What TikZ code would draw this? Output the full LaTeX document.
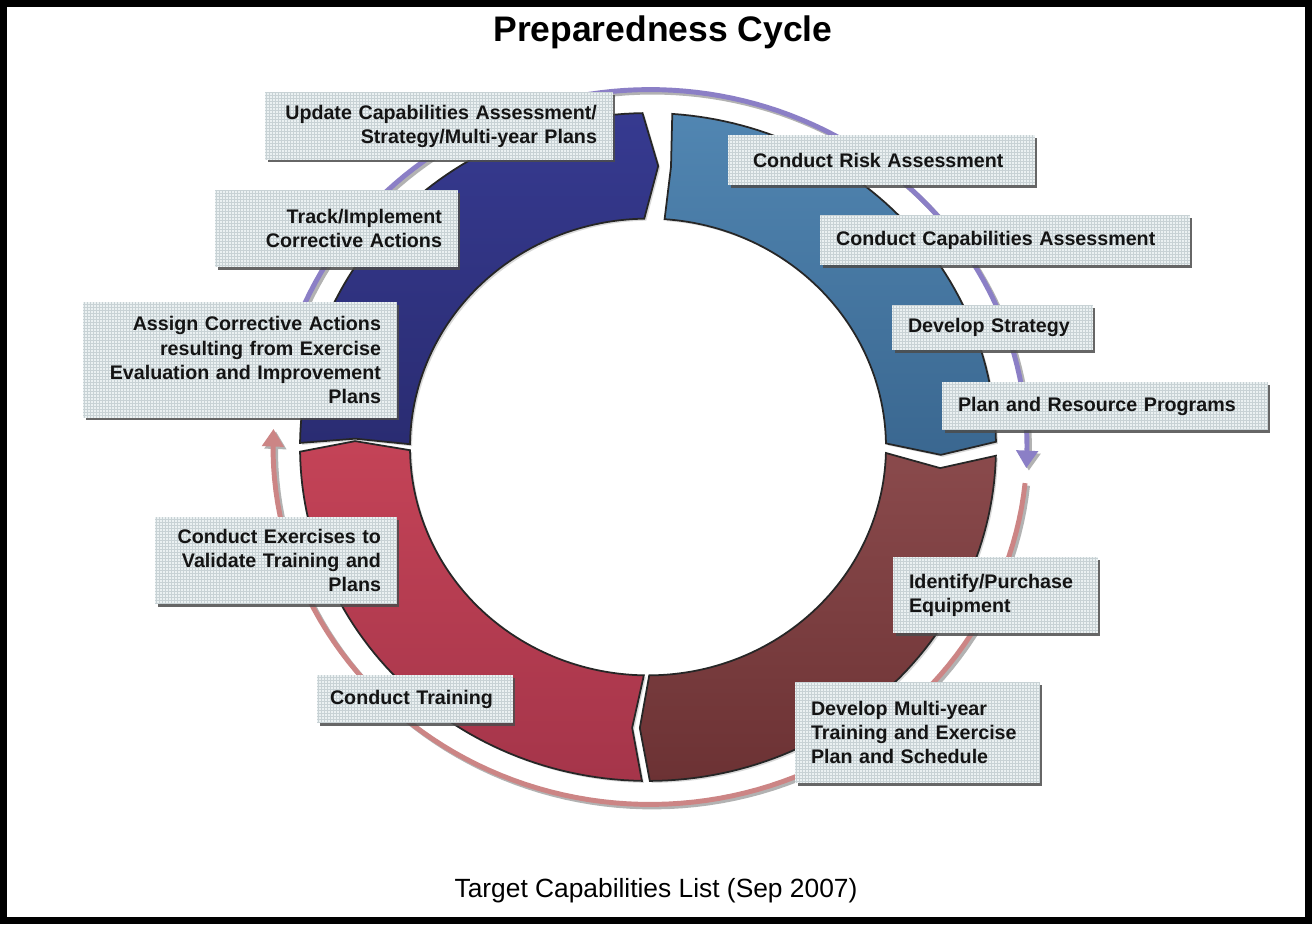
\documentclass[tikz,border=0pt]{standalone}
\usepackage{fontspec}
\setmainfont{Liberation Sans}
\usetikzlibrary{arrows.meta,shadows}
\definecolor{navyA}{HTML}{363A90}
\definecolor{navyB}{HTML}{2A2C72}
\definecolor{blueA}{HTML}{5186B2}
\definecolor{blueB}{HTML}{3A6790}
\definecolor{dredA}{HTML}{8A4A4C}
\definecolor{dredB}{HTML}{6C3234}
\definecolor{redA}{HTML}{C44357}
\definecolor{redB}{HTML}{A5354A}
\definecolor{arcpurple}{HTML}{8B7FC6}
\definecolor{arcpink}{HTML}{CC8585}
\definecolor{boxfill}{HTML}{EBF1F2}
\definecolor{gridcol}{HTML}{C8D2D5}
\definecolor{textcol}{HTML}{141414}
\newcommand\RingOut{348}
\newcommand\RingIn{238}
\newcommand\RingMid{293}
\newcommand\ArcR{377}
\newcommand\boxfont{\fontsize{11.2pt}{13.7pt}\selectfont\bfseries}
% #1 start angle, #2 end angle, #3 notch depth, #4 tip depth, #5 style
\newcommand\ringseg[5]{%
  \path[#5] plot[domain=#1:#2,samples=60] ({\RingOut*cos(\x)},{\RingOut*sin(\x)})
    -- ({\RingMid*cos(#2-#4)},{\RingMid*sin(#2-#4)})
    -- plot[domain=#2:#1,samples=60] ({\RingIn*cos(\x)},{\RingIn*sin(\x)})
    -- ({\RingMid*cos(#1-#3)},{\RingMid*sin(#1-#3)}) -- cycle;}
\tikzset{
  segbase/.style={draw=black!85, line width=1pt,
    drop shadow={shadow xshift=0.04cm, shadow yshift=-0.04cm, opacity=0.3}},
  navyseg/.style={segbase, top color=navyA, bottom color=navyB},
  blueseg/.style={segbase, top color=blueA, bottom color=blueB},
  dredseg/.style={segbase, top color=dredA, bottom color=dredB},
  redseg/.style={segbase, top color=redA, bottom color=redB},
  arcline/.style={line width=2.8pt, -{Triangle[width=12pt,length=10pt]}},
  box/.style={fill=boxfill, text=textcol, font=\boxfont, inner ysep=0pt, inner xsep=0.32cm,
    path picture={\draw[gridcol, line width=0.25pt, step=0.06cm]
      (path picture bounding box.south west) grid (path picture bounding box.north east);},
    drop shadow={shadow xshift=0.05cm, shadow yshift=-0.05cm, fill=black!70, opacity=0.85}},
  rbox/.style={box, align=right},
  lbox/.style={box, align=left}
}
\begin{document}
\begin{tikzpicture}[x=0.02cm,y=-0.02cm]
\useasboundingbox (0,0) rectangle (1312,924);
\fill[white] (0,0) rectangle (1312,924);

% outer thin cycle arcs
\begin{scope}[shift={(650,447)}, x=0.02cm, y=0.01896cm]
  \begin{scope}[xshift=0.05cm, yshift=-0.05cm]
    \draw[arcline, black!30] plot[domain=160:-3.4,samples=90] ({\ArcR*cos(\x)},{\ArcR*sin(\x)});
    \draw[arcline, black!30] plot[domain=-5.8:-182.9,samples=90] ({\ArcR*cos(\x)},{\ArcR*sin(\x)});
  \end{scope}
  \draw[arcline, arcpurple] plot[domain=160:-3.4,samples=90] ({\ArcR*cos(\x)},{\ArcR*sin(\x)});
  \draw[arcline, arcpink] plot[domain=-5.8:-182.9,samples=90] ({\ArcR*cos(\x)},{\ArcR*sin(\x)});
\end{scope}

% ring segments
\begin{scope}[shift={(648,447)}, x=0.02cm, y=0.0192cm]
  \ringseg{179.3}{90.9}{1.0}{2.9}{navyseg}
  \ringseg{86.0}{0.9}{0.5}{2.5}{blueseg}
  \ringseg{-1.5}{-89.7}{2.8}{1.9}{dredseg}
  \ringseg{-91.0}{-179.2}{2.1}{2.0}{redseg}
\end{scope}

% labels
\node[rbox, text width=6.32cm, minimum height=1.36cm] (update) at (439,126)
  {Update Capabilities Assessment/\\Strategy/Multi-year Plans};
\node[rbox, text width=4.22cm, minimum height=1.54cm] (track) at (336.5,228.5)
  {Track/Implement\\Corrective Actions};
\node[rbox, text width=5.64cm, minimum height=2.32cm] (assign) at (240,360)
  {Assign Corrective Actions\\resulting from Exercise\\Evaluation and Improvement\\Plans};
\node[rbox, text width=4.20cm, minimum height=1.74cm] (exercise) at (276,560.5)
  {Conduct Exercises to\\Validate Training and\\Plans};
\node[lbox, inner xsep=0.26cm, text width=3.40cm, minimum height=0.96cm] (training) at (415,699)
  {Conduct Training};
\node[lbox, text width=4.26cm, minimum height=2.02cm] (multiyear) at (917.5,732.5)
  {Develop Multi-year\\Training and Exercise\\Plan and Schedule};
\node[lbox, text width=3.46cm, minimum height=1.52cm] (equip) at (995.5,595)
  {Identify/Purchase\\Equipment};
\node[lbox, text width=5.88cm, minimum height=0.96cm] (plan) at (1105,406)
  {Plan and Resource Programs};
\node[lbox, text width=3.38cm, minimum height=0.90cm] (strategy) at (992.5,327.5)
  {Develop Strategy};
\node[lbox, text width=6.76cm, minimum height=1.00cm] (capab) at (1005,240)
  {Conduct Capabilities Assessment};
\node[lbox, inner xsep=0.5cm, text width=5.14cm, minimum height=1.00cm] (risk) at (881.5,160)
  {Conduct Risk Assessment};

% title and source
\node[font=\fontsize{20.2pt}{24pt}\selectfont\bfseries, text=black, anchor=base] (title) at (663,41)
  {Preparedness Cycle};
\node[font=\fontsize{15pt}{18pt}\selectfont, text=black, anchor=base] (source) at (656,897)
  {Target Capabilities List (Sep 2007)};

% frame
\draw[line width=4pt] (3.5,3.5) rectangle (1308.5,920.5);
\end{tikzpicture}
\end{document}
